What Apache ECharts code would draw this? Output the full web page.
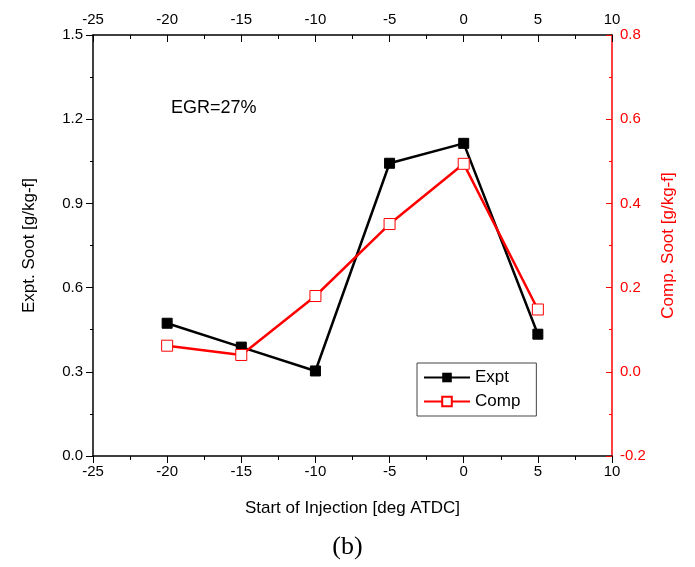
<!DOCTYPE html>
<html>
<head>
<meta charset="utf-8">
<script src="https://cdn.jsdelivr.net/npm/echarts@6/dist/echarts.min.js"></script>
<style>
  html, body { margin: 0; padding: 0; background: #fff; }
  #main { width: 695px; height: 567px; }
</style>
</head>
<body>
<div id="main"></div>
<script>
// injection timing [deg ATDC]
var soi = [-20, -15, -10, -5, 0, 5];
// experimental soot, left axis
var exptSoot = [0.473, 0.388, 0.303, 1.043, 1.114, 0.434];
// computed soot, right axis
var compSoot = [0.062, 0.040, 0.180, 0.351, 0.494, 0.148];

var chart = echarts.init(document.getElementById('main'));
var font = 'Liberation Sans, Arial, sans-serif';

function pairs(xs, ys) {
    return xs.map(function (x, i) { return [x, ys[i]]; });
}

var xBase = {
    type: 'value',
    min: -25,
    max: 10,
    interval: 5,
    splitLine: { show: false },
    axisLine: { onZero: false, lineStyle: { color: '#000', width: 1.5 } },
    minorTick: { show: true, splitNumber: 2, length: 4, lineStyle: { color: '#000' } },
    axisLabel: { color: '#000', fontSize: 15, fontFamily: font, margin: 8 }
};

var option = {
    backgroundColor: '#fff',
    animation: false,
    grid: { left: 93, right: 83, top: 35, bottom: 111 },
    legend: {
        left: 417,
        top: 363,
        orient: 'vertical',
        itemWidth: 46,
        itemHeight: 12,
        itemGap: 7,
        padding: [6, 16, 6, 6],
        borderColor: '#444',
        borderWidth: 1,
        textStyle: { color: '#000', fontSize: 17, fontFamily: font },
        data: ['Expt', 'Comp']
    },
    xAxis: [
        Object.assign({}, xBase, {
            position: 'bottom',
            name: 'Start of Injection [deg ATDC]',
            nameLocation: 'middle',
            nameGap: 44,
            nameTextStyle: { color: '#000', fontSize: 17, fontFamily: font },
            axisTick: { inside: false, length: 7, lineStyle: { color: '#000' } }
        }),
        Object.assign({}, xBase, {
            position: 'top',
            axisTick: { inside: true, length: 7, lineStyle: { color: '#000' } }
        })
    ],
    yAxis: [
        {
            type: 'value',
            position: 'left',
            min: 0,
            max: 1.5,
            interval: 0.3,
            name: 'Expt. Soot [g/kg-f]',
            nameLocation: 'middle',
            nameGap: 55,
            nameTextStyle: { color: '#000', fontSize: 17, fontFamily: font },
            splitLine: { show: false },
            axisLine: { show: true, onZero: false, lineStyle: { color: '#000', width: 1.5 } },
            axisTick: { show: true, inside: false, length: 7, lineStyle: { color: '#000' } },
            minorTick: { show: true, splitNumber: 2, length: 3, lineStyle: { color: '#000' } },
            axisLabel: {
                color: '#000', fontSize: 15, fontFamily: font, margin: 10,
                formatter: function (v) { return v.toFixed(1); }
            }
        },
        {
            type: 'value',
            position: 'right',
            min: -0.2,
            max: 0.8,
            interval: 0.2,
            name: 'Comp. Soot [g/kg-f]',
            nameLocation: 'middle',
            nameGap: 48,
            nameRotate: 90,
            nameTextStyle: { color: '#ff0000', fontSize: 17, fontFamily: font },
            splitLine: { show: false },
            axisLine: { show: true, onZero: false, lineStyle: { color: '#ff0000', width: 1.5 } },
            axisTick: { show: true, inside: true, length: 6, lineStyle: { color: '#ff0000' } },
            minorTick: { show: true, splitNumber: 2, length: 3, lineStyle: { color: '#ff0000' } },
            axisLabel: {
                color: '#ff0000', fontSize: 15, fontFamily: font, margin: 8,
                formatter: function (v) { return v.toFixed(1); }
            }
        }
    ],
    graphic: [
        {
            type: 'text',
            left: 171,
            top: 99,
            style: { text: 'EGR=27%', fill: '#000', font: '18px ' + font }
        },
        {
            type: 'text',
            left: 'center',
            top: 534,
            style: { text: '(b)', fill: '#000', font: '26px Liberation Serif, Times New Roman, serif' }
        }
    ],
    series: [
        {
            name: 'Expt',
            type: 'line',
            xAxisIndex: 0,
            yAxisIndex: 0,
            data: pairs(soi, exptSoot),
            symbol: 'rect',
            symbolSize: 10,
            z: 3,
            lineStyle: { color: '#000', width: 2.5 },
            itemStyle: { color: '#000', borderColor: '#000' }
        },
        {
            name: 'Comp',
            type: 'line',
            xAxisIndex: 0,
            yAxisIndex: 1,
            data: pairs(soi, compSoot),
            symbol: 'rect',
            symbolSize: 11,
            z: 4,
            lineStyle: { color: '#ff0000', width: 2.5 },
            itemStyle: { color: '#fff', borderColor: '#ff0000', borderWidth: 1 }
        }
    ]
};

chart.setOption(option);
</script>
</body>
</html>
